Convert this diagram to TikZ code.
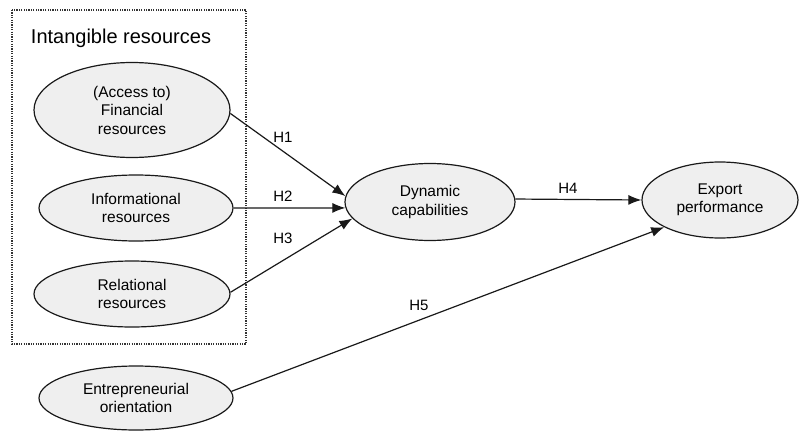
\documentclass[tikz,border=0pt]{standalone}
\usepackage{fontspec}
\setmainfont{Liberation Sans}
\usetikzlibrary{shapes.geometric,arrows.meta}
\definecolor{ellfill}{HTML}{EFEFEF}
\begin{document}
\begin{tikzpicture}[x=1pt,y=-1pt,
  res/.style={ellipse,draw=black!90,line width=1.2pt,fill=ellfill,inner sep=0pt,align=center,
    font=\fontsize{15.5}{18.5}\selectfont},
  hlab/.style={font=\fontsize{15}{18}\selectfont,inner sep=1pt},
  conn/.style={line width=1.2pt,draw=black!90,-{Latex[length=13pt,width=10pt]}},
  grpbox/.style={line width=1.3pt,draw=black!80,dash pattern=on 1.2pt off 1.2pt}]
\useasboundingbox (0,0) rectangle (801,431);
\draw[grpbox] (12,10) rectangle (246,344);
\node[font=\fontsize{20}{24}\selectfont,inner sep=0pt] (title) at (121,38) {Intangible resources};
\node[res,minimum width=196pt,minimum height=95pt] (fin) at (132,110) {(Access to)\\Financial\\resources};
\node[res,minimum width=194pt,minimum height=66pt] (inf) at (136,208) {Informational\\resources};
\node[res,minimum width=196pt,minimum height=66pt] (rel) at (132,294) {Relational\\resources};
\node[res,minimum width=194pt,minimum height=64pt] (ent) at (136,398) {Entrepreneurial\\orientation};
\node[res,minimum width=170pt,minimum height=77pt] (dyn) at (430,202) {Dynamic\\capabilities};
\node[res,minimum width=156pt,minimum height=76pt] (exp) at (720,200) {Export\\performance};
\draw[conn] (fin.-2) -- (dyn.176);
\draw[conn] (inf.east) -- (dyn.184);
\draw[conn] (rel.1) -- (dyn.192);
\draw[conn] (dyn.2) -- (exp.west);
\draw[conn] (ent.4) -- (exp.206);
\node[hlab] (h1) at (283,137) {H1};
\node[hlab] (h2) at (283,196) {H2};
\node[hlab] (h3) at (283,238) {H3};
\node[hlab] (h4) at (568,188) {H4};
\node[hlab] (h5) at (419,305) {H5};
\end{tikzpicture}
\end{document}
